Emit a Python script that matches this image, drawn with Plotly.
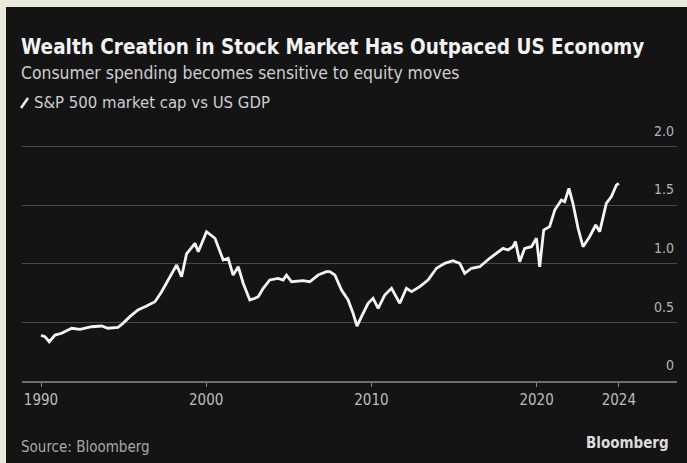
import plotly.graph_objects as go

# S&P 500 market capitalisation relative to US GDP (ratio), by fractional year
years = [
    1990.0, 1990.24, 1990.5, 1990.85, 1991.25, 1991.86, 1992.36, 1993.07, 1993.67, 1994.05,
    1994.66, 1994.96, 1995.38, 1995.87, 1996.39, 1996.9, 1997.3, 1997.68, 1998.21, 1998.51,
    1998.81, 1999.32, 1999.52, 2000.02, 2000.53, 2001.03, 2001.33, 2001.63, 2001.94, 2002.24,
    2002.64, 2002.95, 2003.15, 2003.45, 2003.85, 2004.36, 2004.66, 2004.86, 2005.17, 2005.87,
    2006.27, 2006.78, 2007.28, 2007.48, 2007.79, 2008.19, 2008.59, 2008.89, 2009.13, 2009.4,
    2009.8, 2010.1, 2010.41, 2010.81, 2011.22, 2011.72, 2012.12, 2012.43, 2012.93, 2013.43,
    2013.94, 2014.44, 2014.94, 2015.35, 2015.65, 2016.06, 2016.56, 2017.16, 2017.97, 2018.27,
    2018.57, 2018.72, 2018.98, 2019.28, 2019.69, 2019.99, 2020.19, 2020.43, 2020.79, 2021.1,
    2021.5, 2021.7, 2021.96, 2022.2, 2022.51, 2022.81, 2023.21, 2023.58, 2023.82, 2024.22,
    2024.53, 2024.83, 2024.98,
]
ratio = [
    0.39, 0.378, 0.335, 0.392, 0.407, 0.45, 0.441, 0.463, 0.469, 0.45,
    0.458, 0.492, 0.549, 0.606, 0.64, 0.677, 0.762, 0.862, 0.99, 0.89,
    1.084, 1.175, 1.103, 1.274, 1.218, 1.032, 1.047, 0.904, 0.975, 0.834,
    0.691, 0.706, 0.719, 0.791, 0.862, 0.876, 0.862, 0.904, 0.847, 0.856,
    0.847, 0.904, 0.933, 0.933, 0.904, 0.776, 0.691, 0.578, 0.469, 0.549,
    0.663, 0.706, 0.62, 0.734, 0.791, 0.663, 0.791, 0.762, 0.805, 0.862,
    0.962, 1.004, 1.026, 1.004, 0.919, 0.962, 0.975, 1.047, 1.132, 1.118,
    1.146, 1.189, 1.018, 1.132, 1.146, 1.218, 0.975, 1.288, 1.317, 1.459,
    1.544, 1.53, 1.644, 1.516, 1.303, 1.146, 1.231, 1.331, 1.274, 1.516,
    1.573, 1.672, 1.687,
]

x_tick_vals = [1990, 2000, 2010, 2020, 2024.98]
x_tick_text = ["1990", "2000", "2010", "2020", "2024"]
y_tick_vals = [0, 0.5, 1.0, 1.5, 2.0]
y_tick_text = ["0", "0.5", "1.0", "1.5", "2.0"]

W, H = 687, 463
ML, MR, MT, MB = 22, 10, 110, 82
PW, PH = W - ML - MR, H - MT - MB
Y_TOP = PH / 117.2  # keeps 0.5 units at ~58.6 px

FONT = "DejaVu Sans Condensed"
BG = "#141414"
FRAME = "#ebe8dc"


def px(xp):
    return (xp - ML) / PW


def py(yp):
    return (H - MB - yp) / PH


fig = go.Figure()
fig.add_trace(go.Scatter(
    x=years, y=ratio, mode="lines",
    line=dict(color="#f4f4f4", width=2.8),
    hoverinfo="skip", showlegend=False,
))

fig.update_layout(
    width=W, height=H,
    margin=dict(l=ML, r=MR, t=MT, b=MB),
    paper_bgcolor=FRAME,
    plot_bgcolor="rgba(0,0,0,0)",
    font=dict(family=FONT, color="#b4b4b4", size=12),
    xaxis=dict(
        range=[1988.85, 2028.5],
        tickvals=x_tick_vals, ticktext=x_tick_text,
        showgrid=False, zeroline=False,
        showline=True, linecolor="#6e6e6e", linewidth=2,
        ticks="outside", ticklen=4, tickcolor="#8a8a8a", tickwidth=1,
        tickfont=dict(family=FONT, size=15, color="#bdbdbd"),
        fixedrange=True,
    ),
    yaxis=dict(
        range=[0, Y_TOP],
        side="right",
        tickvals=y_tick_vals, ticktext=y_tick_text,
        ticklabelposition="inside top",
        ticklabelshift=-6,
        showgrid=True, gridcolor="#4a4a4a", gridwidth=1,
        zeroline=False, showline=False, ticks="",
        tickfont=dict(family=FONT, size=14, color="#b4b4b4"),
        fixedrange=True,
    ),
    shapes=[
        dict(type="rect", xref="paper", yref="paper", layer="below",
             x0=px(6), x1=px(W + 5), y0=py(H + 5), y1=py(7),
             fillcolor=BG, line=dict(width=0)),
        dict(type="line", xref="paper", yref="paper",
             x0=px(21), x1=px(28), y0=py(108), y1=py(98),
             line=dict(color="#e6e6e6", width=2.6)),
    ],
    annotations=[
        dict(text="<b>Wealth Creation in Stock Market Has Outpaced US Economy</b>",
             xref="paper", yref="paper", x=px(19), y=py(47),
             xanchor="left", yanchor="middle", showarrow=False,
             font=dict(family=FONT, size=20.5, color="#f2f2f2")),
        dict(text="Consumer spending becomes sensitive to equity moves",
             xref="paper", yref="paper", x=px(19), y=py(73),
             xanchor="left", yanchor="middle", showarrow=False,
             font=dict(family=FONT, size=17.4, color="#cfcfcf")),
        dict(text="S&P 500 market cap vs US GDP",
             xref="paper", yref="paper", x=px(32), y=py(103),
             xanchor="left", yanchor="middle", showarrow=False,
             font=dict(family=FONT, size=16.6, color="#cfcfcf")),
        dict(text="Source: Bloomberg",
             xref="paper", yref="paper", x=px(19), y=py(447),
             xanchor="left", yanchor="middle", showarrow=False,
             font=dict(family=FONT, size=15, color="#a8a8a8")),
        dict(text="<b>Bloomberg</b>",
             xref="paper", yref="paper", x=px(671), y=py(443),
             xanchor="right", yanchor="middle", showarrow=False,
             font=dict(family=FONT, size=15, color="#dcdcdc")),
    ],
)

fig.write_html("out.html", config={"displayModeBar": False})
